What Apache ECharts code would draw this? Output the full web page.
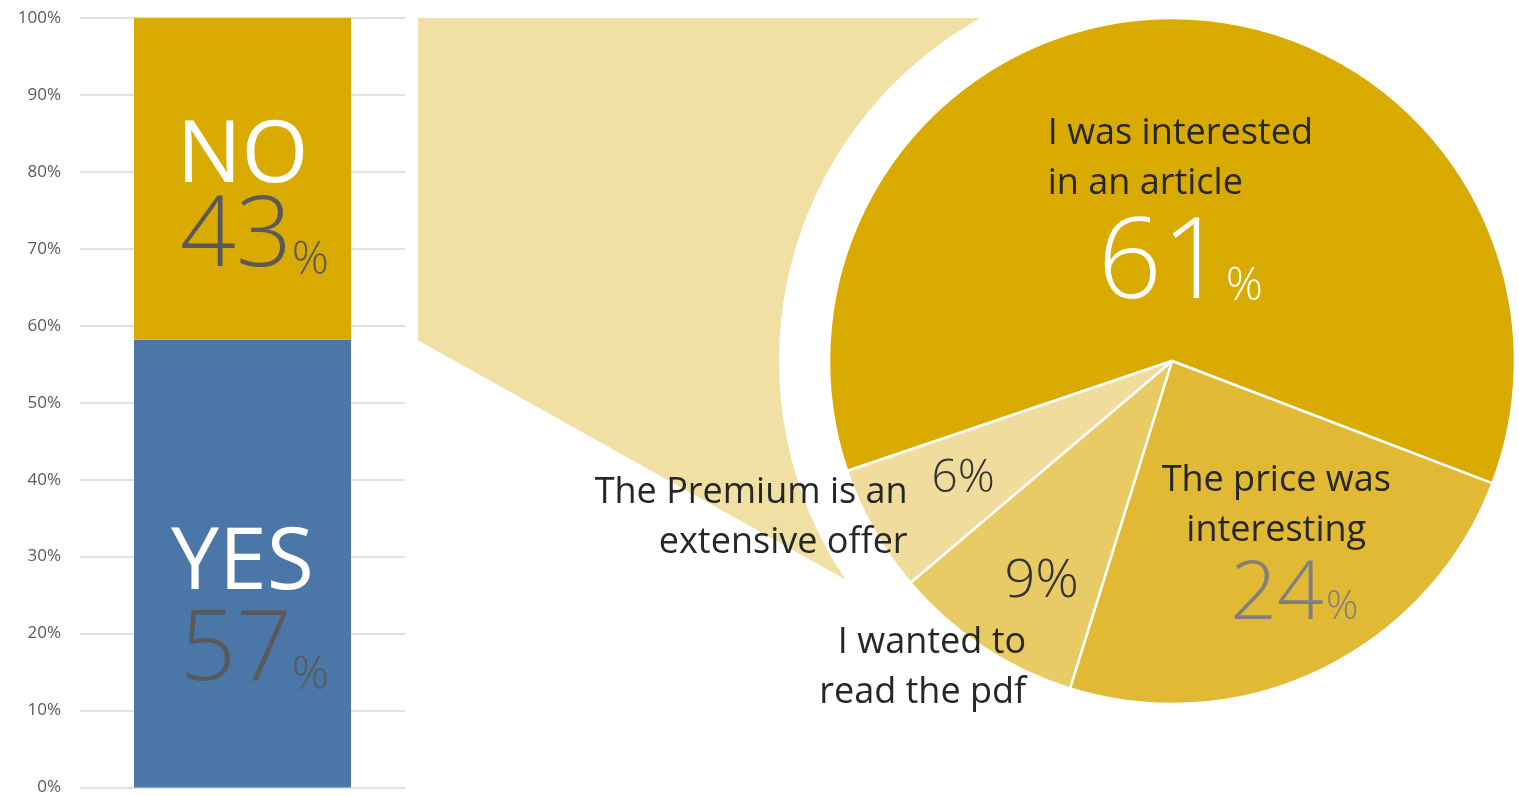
<!DOCTYPE html>
<html>
<head>
<meta charset="utf-8">
<script src="https://cdn.jsdelivr.net/npm/echarts@6/dist/echarts.min.js"></script>
<style>
html,body{margin:0;padding:0;background:#fff;}
#main{width:1519px;height:796px;}
</style>
</head>
<body>
<div id="main"></div>
<script>
// ---- data ----
const barCategories = ['Answer'];
const barNames = ['YES', 'NO'];
const barPercentText = ['57', '43'];
const yesValues = [58.2];
const noValues = [41.8];
const yAxisMin = 0, yAxisMax = 100, yAxisStep = 10;

const pieNames = ['I was interested\nin an article', 'The price was\ninteresting', 'I wanted to\nread the pdf', 'The Premium is an\nextensive offer'];
const pieValues = [61, 24, 9, 6];
const piePercentText = ['61', '24', '9', '6'];

// ---- styles / layout ----
const FONT = '"Open Sans", "Noto Sans", sans-serif';
const BLUE = '#4a76a8';
const GOLD = '#d9ab00';
const pieColors = [GOLD, '#e2b935', '#e9cb66', '#f0dd9e'];
const PIE_CENTER = [1172, 361];
const PIE_R = 343;
const GRID = {left: 80, top: 18, width: 325, height: 771};

const chart = echarts.init(document.getElementById('main'), null, {renderer: 'canvas'});

function barLabel(i, titleLH) {
  return {
    show: true,
    position: 'inside',
    formatter: '{t|' + barNames[i] + '}\n{n|' + barPercentText[i] + '}{p|%}',
    rich: {
      t: {fontFamily: FONT, fontSize: 86, color: '#fff', lineHeight: titleLH},
      n: {fontFamily: FONT, fontSize: 98, fontWeight: 300, color: '#595959', lineHeight: 92, padding: [0, 0, 0, 24]},
      p: {fontFamily: FONT, fontSize: 46, fontWeight: 300, color: '#595959', lineHeight: 92, verticalAlign: 'bottom'}
    }
  };
}

const nameStyle = {fontFamily: FONT, fontSize: 36, color: '#262626', lineHeight: 50};

function pieNumLabel(i) {
  const lines = pieNames[i].split('\n');
  if (i === 0) {
    return {
      formatter: lines.map(l => '{n|' + l + '}').join('\n') + '\n{big|' + piePercentText[i] + '}{pc|%}',
      rich: {
        n: Object.assign({}, nameStyle, {align: 'left'}),
        big: {fontFamily: FONT, fontSize: 112, fontWeight: 300, color: '#fff', lineHeight: 116, align: 'center'},
        pc: {fontFamily: FONT, fontSize: 46, fontWeight: 300, color: '#fff', lineHeight: 116, align: 'center', verticalAlign: 'bottom', padding: [0, 0, 15, 0]}
      }
    };
  }
  if (i === 1) {
    return {
      formatter: lines.map(l => '{n|' + l + '}').join('\n') + '\n{big|' + piePercentText[i] + '}{pc|%}',
      rich: {
        n: Object.assign({}, nameStyle, {align: 'center'}),
        big: {fontFamily: FONT, fontSize: 82, fontWeight: 300, color: '#7f7f7f', lineHeight: 80, align: 'center', padding: [0, 0, 0, 36]},
        pc: {fontFamily: FONT, fontSize: 40, fontWeight: 300, color: '#7f7f7f', lineHeight: 80, align: 'center', verticalAlign: 'bottom', padding: [0, 0, 8, 2]}
      }
    };
  }
  return {
    formatter: '{v|' + piePercentText[i] + '%}',
    rich: {v: {fontFamily: FONT, fontSize: i === 2 ? 54 : 46, fontWeight: 300, color: '#333333'}}
  };
}

const numDx = [5, 28, -34, -57];
const numDy = [30, 28, 75, 32];
const nameDx = [0, 0, -153, -269];
const nameDy = [0, 0, 161, 71];

const pieData = pieValues.map((v, i) => ({
  name: pieNames[i],
  value: v,
  itemStyle: {color: pieColors[i]},
  label: Object.assign({show: true, position: 'inside'}, pieNumLabel(i))
}));

const pieNameData = pieValues.map((v, i) => ({
  name: pieNames[i],
  value: v,
  label: i >= 2 ? {
    show: true, position: 'inside',
    formatter: pieNames[i].split('\n').map(l => '{n|' + l + '}').join('\n'),
    rich: {n: Object.assign({}, nameStyle, {align: 'right'})}
  } : {show: false}
}));

// connector shape follows the NO segment of the bar (same scale as the grid)
const yOf = v => GRID.top + GRID.height * (yAxisMax - v) / (yAxisMax - yAxisMin);
const yTop = yOf(yAxisMax);
const yJoin = yOf(yesValues[0]);
const xLeft = GRID.left + GRID.width + 13;

const option = {
  animation: false,
  backgroundColor: '#fff',
  grid: GRID,
  xAxis: {
    type: 'category', data: barCategories,
    axisLine: {show: false}, axisTick: {show: false}, axisLabel: {show: false}
  },
  yAxis: {
    type: 'value', min: yAxisMin, max: yAxisMax, interval: yAxisStep,
    axisLine: {show: false}, axisTick: {show: false},
    axisLabel: {formatter: '{value}%', fontFamily: FONT, fontSize: 17, color: '#595959', margin: 19},
    splitLine: {lineStyle: {color: '#d9d9d9', width: 1.5}}
  },
  graphic: [
    {
      type: 'polygon', z: 0, silent: true,
      shape: {points: [[xLeft, yTop], [PIE_CENTER[0], yTop], [PIE_CENTER[0], PIE_CENTER[1]], [950, 638], [xLeft, yJoin]]},
      style: {fill: '#f1e0a3'}
    },
    {
      type: 'circle', z: 1, silent: true,
      shape: {cx: PIE_CENTER[0], cy: PIE_CENTER[1], r: PIE_R + 50},
      style: {fill: '#ffffff'}
    }
  ],
  series: [
    {
      name: barNames[0], type: 'bar', stack: 'total', barWidth: 217,
      data: yesValues, itemStyle: {color: BLUE},
      label: Object.assign(barLabel(0, 84), {offset: [0, 47]})
    },
    {
      name: barNames[1], type: 'bar', stack: 'total', barWidth: 217,
      data: noValues, itemStyle: {color: GOLD},
      label: Object.assign(barLabel(1, 68), {offset: [0, 25]})
    },
    {
      name: 'reasons', type: 'pie', center: PIE_CENTER, radius: PIE_R,
      startAngle: 198.7, clockwise: true, avoidLabelOverlap: false,
      z: 3,
      itemStyle: {borderColor: '#fff', borderWidth: 2.5},
      labelLine: {show: false},
      labelLayout: function (p) { return {dx: numDx[p.dataIndex], dy: numDy[p.dataIndex]}; },
      emphasis: {disabled: true},
      data: pieData
    },
    {
      name: 'reasonNames', type: 'pie', center: PIE_CENTER, radius: PIE_R,
      startAngle: 198.7, clockwise: true, avoidLabelOverlap: false,
      z: 4, silent: true,
      itemStyle: {color: 'rgba(0,0,0,0)', borderWidth: 0},
      labelLine: {show: false},
      labelLayout: function (p) { return {dx: nameDx[p.dataIndex], dy: nameDy[p.dataIndex]}; },
      emphasis: {disabled: true},
      data: pieNameData
    }
  ]
};
chart.setOption(option);
</script>
</body>
</html>
